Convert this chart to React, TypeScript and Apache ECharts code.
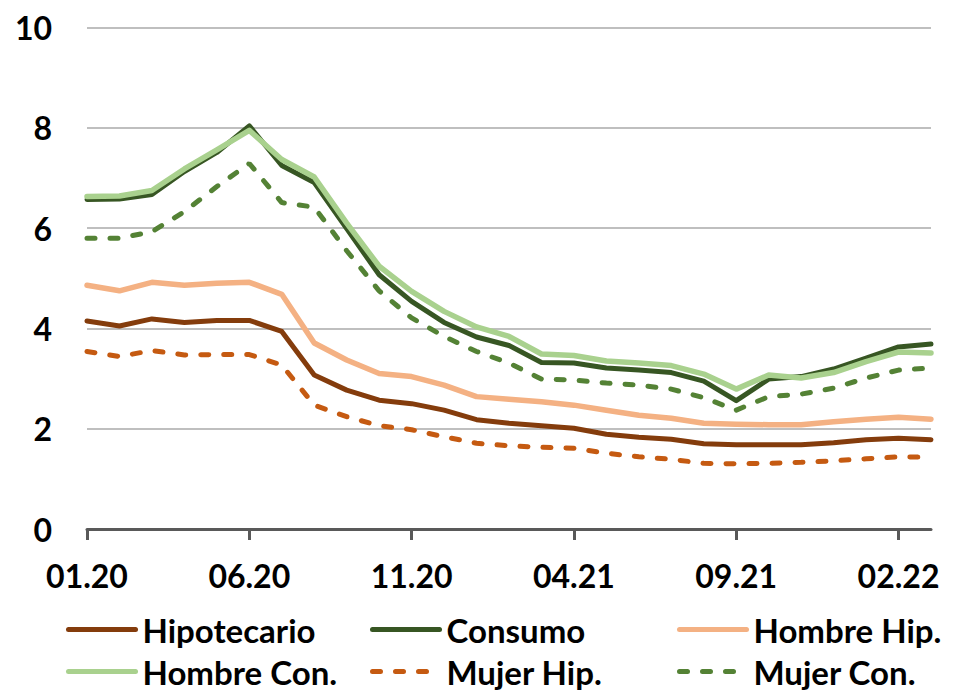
import { useEffect, useRef } from 'react';
import * as echarts from 'echarts';

const months = [
  '01.20', '02.20', '03.20', '04.20', '05.20', '06.20', '07.20', '08.20', '09.20',
  '10.20', '11.20', '12.20', '01.21', '02.21', '03.21', '04.21', '05.21', '06.21',
  '07.21', '08.21', '09.21', '10.21', '11.21', '12.21', '01.22', '02.22', '03.22',
];

const hipotecario = [4.15, 4.05, 4.19, 4.12, 4.16, 4.16, 3.94, 3.07, 2.77, 2.57, 2.5, 2.37, 2.18, 2.11, 2.06, 2.01, 1.89, 1.83, 1.79, 1.7, 1.68, 1.68, 1.68, 1.72, 1.78, 1.81, 1.78];
const consumo = [6.57, 6.58, 6.67, 7.13, 7.51, 8.04, 7.25, 6.91, 5.99, 5.07, 4.54, 4.12, 3.83, 3.66, 3.32, 3.31, 3.21, 3.17, 3.12, 2.95, 2.56, 2.99, 3.04, 3.19, 3.41, 3.63, 3.69];
const hombreHip = [4.86, 4.75, 4.92, 4.86, 4.9, 4.92, 4.68, 3.71, 3.37, 3.1, 3.04, 2.87, 2.64, 2.59, 2.54, 2.47, 2.37, 2.27, 2.21, 2.11, 2.09, 2.08, 2.08, 2.14, 2.19, 2.23, 2.19];
const hombreCon = [6.63, 6.64, 6.75, 7.18, 7.56, 7.95, 7.37, 7.02, 6.1, 5.24, 4.74, 4.34, 4.03, 3.84, 3.49, 3.46, 3.35, 3.31, 3.26, 3.09, 2.79, 3.07, 3.01, 3.12, 3.34, 3.53, 3.51];
const mujerHip = [3.54, 3.44, 3.56, 3.47, 3.48, 3.48, 3.27, 2.47, 2.24, 2.06, 1.98, 1.84, 1.71, 1.66, 1.63, 1.61, 1.51, 1.44, 1.39, 1.31, 1.3, 1.31, 1.33, 1.36, 1.4, 1.44, 1.43];
const mujerCon = [5.8, 5.8, 5.93, 6.33, 6.83, 7.29, 6.51, 6.42, 5.55, 4.75, 4.21, 3.84, 3.54, 3.31, 2.99, 2.97, 2.91, 2.87, 2.79, 2.62, 2.37, 2.64, 2.69, 2.81, 3.01, 3.17, 3.21];

const FONT = 'Lato, "Liberation Sans", sans-serif';

const App = () => {
  const chartRef = useRef<HTMLDivElement>(null);

  useEffect(() => {
    if (!chartRef.current) return;
    const chart = echarts.init(chartRef.current, null, { renderer: 'svg' });

    const line = (name: string, data: number[], color: string, width: number, dashed = false) => ({
      name,
      type: 'line',
      data,
      symbol: 'none',
      lineStyle: dashed
        ? { color, width, type: [8, 15], cap: 'round' }
        : { color, width, cap: 'round', join: 'round' },
      itemStyle: { color },
    });

    // one legend per item so the 3x2 layout is fixed
    const legendItem = (name: string, left: number, top: number) => ({
      left,
      top,
      padding: 0,
      itemWidth: 67,
      itemHeight: 14,
      itemStyle: { opacity: 0 },
      lineStyle: { width: 5, cap: 'round' },
      textStyle: { fontSize: 33, fontWeight: 'bold', color: '#000', fontFamily: FONT, padding: [0, 0, 0, 2] },
      data: [name],
    });

    chart.setOption({
      animation: false,
      grid: { left: 87, right: 24, top: 27.6, bottom: 163 },
      xAxis: {
        type: 'category',
        data: months,
        boundaryGap: false,
        axisLine: { lineStyle: { color: '#595959', width: 3 } },
        axisTick: { interval: 4, length: 11, lineStyle: { color: '#595959', width: 3 } },
        axisLabel: {
          interval: 4,
          margin: 30,
          fontSize: 32,
          fontWeight: 'bold',
          color: '#000',
          fontFamily: FONT,
        },
      },
      yAxis: {
        type: 'value',
        min: 0,
        max: 10,
        interval: 2,
        axisLine: { show: false },
        axisTick: { show: false },
        axisLabel: {
          margin: 35,
          fontSize: 32,
          fontWeight: 'bold',
          color: '#000',
          fontFamily: FONT,
        },
        splitLine: { lineStyle: { color: '#bfbfbf', width: 2 } },
      },
      legend: [
        legendItem('Hipotecario', 66, 613),
        legendItem('Consumo', 370, 613),
        legendItem('Hombre Hip.', 677, 613),
        legendItem('Hombre Con.', 66, 655),
        legendItem('Mujer Hip.', 370, 655),
        legendItem('Mujer Con.', 677, 655),
      ],
      series: [
        line('Hipotecario', hipotecario, '#843c0c', 5),
        line('Consumo', consumo, '#375623', 5),
        line('Hombre Hip.', hombreHip, '#f4b183', 5.5),
        line('Hombre Con.', hombreCon, '#a9d18e', 5.5),
        line('Mujer Hip.', mujerHip, '#c55a11', 5, true),
        line('Mujer Con.', mujerCon, '#548235', 5, true),
      ],
    });

    return () => {
      chart.dispose();
    };
  }, []);

  return (
    <div
      ref={chartRef}
      style={{ position: 'fixed', left: 0, top: 0, width: '955px', height: '692px', background: '#fff' }}
    />
  );
};

export default App;
